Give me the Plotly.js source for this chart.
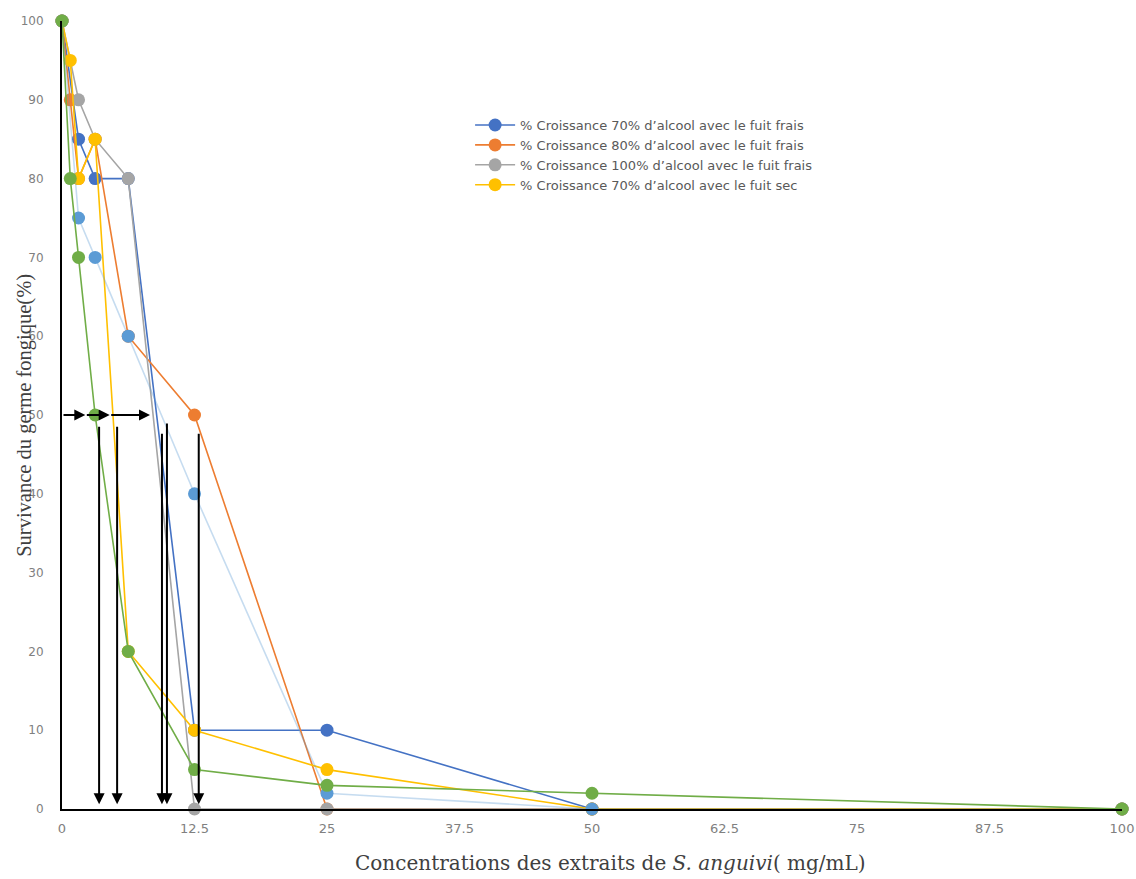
<!DOCTYPE html>
<html>
<head>
<meta charset="utf-8">
<script src="https://cdn.plot.ly/plotly-3.0.1.min.js"></script>
<style>html,body{margin:0;padding:0;background:#fff;}#chart{width:1136px;height:879px;}</style>
</head>
<body>
<div id="chart"></div>
<script>
// Concentrations (mg/mL)
const conc = [0, 0.78, 1.56, 3.125, 6.25, 12.5, 25, 50, 100];

const blueX = [0, 1.56, 3.125, 6.25, 12.5, 25, 50, 100];
const blueY = [100, 85, 80, 80, 10, 10, 0, 0];

const orangeX = [0, 0.78, 1.56, 3.125, 6.25, 12.5, 25, 50, 100];
const orangeY = [100, 90, 80, 85, 60, 50, 0, 0, 0];

const grayX = [0, 1.56, 3.125, 6.25, 12.5, 25, 50, 100];
const grayY = [100, 90, 85, 80, 0, 0, 0, 0];

const yellowX = [0, 0.78, 1.56, 3.125, 6.25, 12.5, 25, 50, 100];
const yellowY = [100, 95, 80, 85, 20, 10, 5, 0, 0];

const lightBlueX = [0, 1.56, 3.125, 6.25, 12.5, 25, 50, 100];
const lightBlueY = [100, 75, 70, 60, 40, 2, 0, 0];

const greenX = [0, 0.78, 1.56, 3.125, 6.25, 12.5, 25, 50, 100];
const greenY = [100, 80, 70, 50, 20, 5, 3, 2, 0];

const seriesNames = [
  "% Croissance 70% d\u2019alcool avec le fuit frais",
  "% Croissance 80% d\u2019alcool avec le fuit frais",
  "% Croissance 100% d\u2019alcool avec le fuit frais",
  "% Croissance 70% d\u2019alcool avec le fuit sec"
];

// Arrow positions (concentration values, survival %)
const vArrowX = [3.5, 5.2, 9.43, 9.9, 12.9];
const vArrowTop = [48.7, 48.7, 47.8, 49.1, 47.8];
const hArrowStart = [0, 2.2, 4.5];
const hArrowEnd = [2.2, 4.5, 8.3];
const hArrowY = 50;

const xTicks = [0, 12.5, 25, 37.5, 50, 62.5, 75, 87.5, 100];
const yTicks = [0, 10, 20, 30, 40, 50, 60, 70, 80, 90, 100];

function tr(x, y, name, lineColor, markerColor, showlegend) {
  return {
    type: 'scatter', mode: 'lines+markers', x: x, y: y, name: name,
    showlegend: showlegend, cliponaxis: false,
    line: {color: lineColor, width: 1.6},
    marker: {color: markerColor, size: 13}
  };
}

const data = [
  tr(blueX, blueY, seriesNames[0], '#4472c4', '#4472c4', true),
  tr(orangeX, orangeY, seriesNames[1], '#ed7d31', '#ed7d31', true),
  tr(grayX, grayY, seriesNames[2], '#a5a5a5', '#a5a5a5', true),
  tr(yellowX, yellowY, seriesNames[3], '#ffc000', '#ffc000', true),
  tr(lightBlueX, lightBlueY, 'lb', 'rgba(91,155,213,0.35)', '#5b9bd5', false),
  tr(greenX, greenY, 'g', '#70ad47', '#70ad47', false)
];

const annotations = [];
for (let i = 0; i < vArrowX.length; i++) {
  annotations.push({
    x: vArrowX[i], y: 0.6, ax: vArrowX[i], ay: vArrowTop[i],
    xref: 'x', yref: 'y', axref: 'x', ayref: 'y',
    showarrow: true, arrowhead: 2, arrowsize: 1.1, arrowwidth: 2, arrowcolor: '#000', text: ''
  });
}
for (let i = 0; i < hArrowStart.length; i++) {
  annotations.push({
    x: hArrowEnd[i], y: hArrowY, ax: hArrowStart[i], ay: hArrowY,
    xref: 'x', yref: 'y', axref: 'x', ayref: 'y',
    showarrow: true, arrowhead: 2, arrowsize: 1.1, arrowwidth: 2, arrowcolor: '#000', text: ''
  });
}
annotations.push({
  text: 'Survivance du germe fongique(%)', textangle: -90,
  xref: 'paper', yref: 'paper', x: -0.036, y: 0.5, xanchor: 'center', yanchor: 'middle',
  showarrow: false, font: {family: 'Liberation Serif', size: 20.5, color: '#404040'}
});
annotations.push({
  text: 'Concentrations des extraits de <i>S. anguivi</i>( mg/mL)',
  xref: 'paper', yref: 'paper', x: 0.517, y: -0.069, xanchor: 'center', yanchor: 'middle',
  showarrow: false, font: {family: 'DejaVu Serif', size: 20, color: '#404040'}
});

const layout = {
  width: 1136, height: 879,
  margin: {l: 62, r: 14, t: 21, b: 70},
  paper_bgcolor: '#fff', plot_bgcolor: '#fff',
  showlegend: true,
  legend: {
    x: 0.385, y: 0.887, xanchor: 'left', yanchor: 'top',
    font: {family: 'DejaVu Sans', size: 13, color: '#595959'},
    tracegroupgap: 0, itemwidth: 40, bgcolor: 'rgba(0,0,0,0)'
  },
  xaxis: {
    range: [0, 100], tickvals: xTicks, ticktext: xTicks.map(String),
    showgrid: false, zeroline: false, showline: true, linecolor: '#000', linewidth: 2,
    ticks: 'outside', ticklen: 6, tickcolor: 'rgba(0,0,0,0)',
    tickfont: {family: 'DejaVu Sans', size: 13, color: '#808080'}
  },
  yaxis: {
    range: [0, 100], tickvals: yTicks,
    showgrid: false, zeroline: false, showline: true, linecolor: '#000', linewidth: 2,
    ticks: 'outside', ticklen: 14, tickcolor: 'rgba(0,0,0,0)',
    tickfont: {family: 'DejaVu Sans', size: 12, color: '#808080'}
  },
  annotations: annotations
};

Plotly.newPlot('chart', data, layout, {displayModeBar: false, staticPlot: true});
</script>
</body>
</html>
